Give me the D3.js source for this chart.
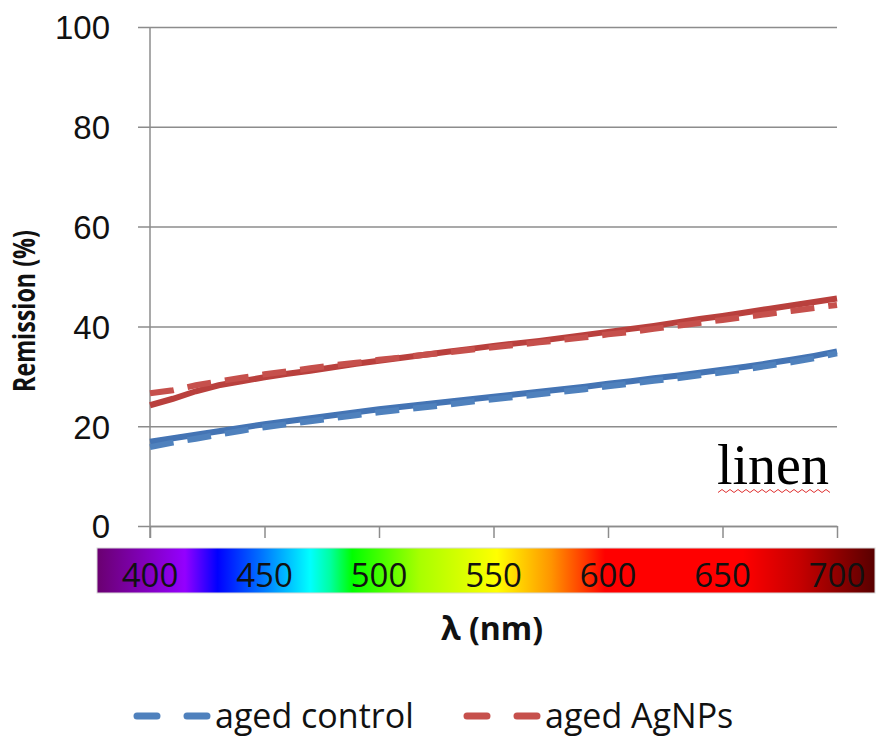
<!DOCTYPE html>
<html>
<head>
<meta charset="utf-8">
<script src="https://cdn.jsdelivr.net/npm/d3@7"></script>
<style>
  body { margin: 0; background: #fff; }
  svg { display: block; font-family: "Open Sans", sans-serif; }
  .axis path, .axis line { stroke: #8c8c8c; stroke-width: 1.5; }
  .axis text { fill: #111; font-size: 33px; }
</style>
</head>
<body>
<svg width="884" height="745"></svg>
<script>
var wavelengths = [400, 410, 420, 430, 440, 450, 460, 470, 480, 490, 500,
    510, 520, 530, 540, 550, 560, 570, 580, 590, 600,
    610, 620, 630, 640, 650, 660, 670, 680, 690, 700];

// solid lines (no legend entry)
var controlSolid = [16.9, 17.6, 18.3, 19.0, 19.7, 20.4, 21.0, 21.6, 22.2, 22.8, 23.4,
    23.9, 24.4, 24.9, 25.4, 25.9, 26.4, 26.9, 27.4, 27.9, 28.5,
    29.0, 29.6, 30.1, 30.7, 31.3, 31.9, 32.6, 33.3, 34.1, 35.0];
var agnpsSolid = [24.2, 25.5, 27.0, 28.2, 29.0, 29.8, 30.5, 31.1, 31.8, 32.5, 33.1,
    33.7, 34.3, 34.9, 35.5, 36.1, 36.6, 37.1, 37.7, 38.3, 38.9,
    39.5, 40.1, 40.8, 41.5, 42.1, 42.8, 43.5, 44.2, 44.9, 45.6];

// dashed lines
var agedControl = [15.8, 16.7, 17.5, 18.3, 19.1, 19.8, 20.4, 21.0, 21.6, 22.2, 22.8,
    23.3, 23.8, 24.3, 24.9, 25.4, 25.9, 26.4, 26.9, 27.4, 28.0,
    28.5, 29.1, 29.6, 30.2, 30.8, 31.4, 32.1, 32.8, 33.6, 34.6];
var agedAgnps = [26.6, 27.2, 28.2, 29.0, 29.7, 30.4, 31.0, 31.6, 32.2, 32.7, 33.3,
    33.8, 34.3, 34.8, 35.3, 35.8, 36.3, 36.8, 37.3, 37.8, 38.4,
    38.9, 39.5, 40.1, 40.7, 41.3, 41.9, 42.5, 43.1, 43.7, 44.3];

var yTicks = [0, 20, 40, 60, 80, 100];
var xTicks = [400, 450, 500, 550, 600, 650, 700];
var legendNames = ["aged control", "aged AgNPs"];

var svg = d3.select("svg");

var plotLeft = 150, plotRight = 837, plotTop = 27, plotBottom = 526;

var x = d3.scaleLinear().domain([400, 700]).range([plotLeft, plotRight]);
var y = d3.scaleLinear().domain([0, 100]).range([plotBottom, plotTop]);

// y axis + gridlines
var yAxis = svg.append("g")
    .attr("class", "axis")
    .attr("transform", "translate(" + plotLeft + ",0)")
    .call(d3.axisLeft(y)
        .tickValues(yTicks)
        .tickSizeInner(-(plotRight - plotLeft))
        .tickSizeOuter(0)
        .tickPadding(40));
yAxis.select(".domain").remove();
yAxis.selectAll(".tick line").attr("x1", -12);
yAxis.selectAll(".tick text").attr("dy", "0.36em");

svg.append("line")
    .attr("x1", plotLeft).attr("x2", plotLeft)
    .attr("y1", plotTop).attr("y2", plotBottom + 12)
    .attr("stroke", "#8c8c8c")
    .attr("stroke-width", 1.5);

// x axis (ticks only, labels sit in the spectrum bar)
svg.append("g")
    .attr("class", "axis")
    .attr("transform", "translate(0," + plotBottom + ")")
    .call(d3.axisBottom(x)
        .tickValues(xTicks)
        .tickSizeInner(12)
        .tickSizeOuter(0)
        .tickFormat(""));

// spectrum bar
var stops = [
    [0, "#6a0070"], [0.068, "#8400c4"], [0.113, "#9400ff"], [0.155, "#0000ff"],
    [0.21, "#0070ff"], [0.274, "#00ffff"], [0.30, "#00ffa0"], [0.328, "#00ff00"],
    [0.415, "#a8ff00"], [0.514, "#ffff00"], [0.584, "#ff9400"], [0.653, "#ff0000"],
    [0.83, "#ff0000"], [0.905, "#c40000"], [1, "#580000"]
];
var grad = svg.append("defs").append("linearGradient")
    .attr("id", "spectrum")
    .attr("x1", "0%").attr("x2", "100%")
    .attr("y1", "0%").attr("y2", "0%");
grad.selectAll("stop")
    .data(stops)
    .enter().append("stop")
    .attr("offset", function (d) { return d[0]; })
    .attr("stop-color", function (d) { return d[1]; });

svg.append("rect")
    .attr("x", 97).attr("y", 548)
    .attr("width", 778).attr("height", 45)
    .attr("fill", "url(#spectrum)")
    .attr("stroke", "#d8d8d8")
    .attr("stroke-width", 1);

svg.append("g").selectAll("text")
    .data(xTicks)
    .enter().append("text")
    .attr("x", function (d) { return x(d); })
    .attr("y", 587)
    .attr("text-anchor", "middle")
    .attr("font-size", "33px")
    .attr("fill", "#111")
    .text(function (d) { return d; });

// lines
var series = [
    { values: controlSolid, color: "#4474b4", dash: null },
    { values: agnpsSolid, color: "#b9403d", dash: null },
    { values: agedControl, color: "#4f81bd", dash: "24 14" },
    { values: agedAgnps, color: "#c6504c", dash: "24 14" }
];

var line = d3.line()
    .x(function (d) { return x(d[0]); })
    .y(function (d) { return y(d[1]); });

svg.append("g").selectAll("path")
    .data(series)
    .enter().append("path")
    .attr("fill", "none")
    .attr("stroke", function (d) { return d.color; })
    .attr("stroke-width", 6)
    .attr("stroke-dasharray", function (d) { return d.dash; })
    .attr("d", function (d) {
        return line(wavelengths.map(function (w, i) { return [w, d.values[i]]; }));
    });

// axis titles
svg.append("text")
    .attr("transform", "translate(35,311) rotate(-90)")
    .attr("text-anchor", "middle")
    .attr("font-size", "30px")
    .attr("font-weight", "bold")
    .attr("fill", "#111")
    .attr("textLength", 162)
    .attr("lengthAdjust", "spacingAndGlyphs")
    .text("Remission (%)");

svg.append("text")
    .attr("x", 492)
    .attr("y", 640)
    .attr("text-anchor", "middle")
    .attr("font-size", "32px")
    .attr("font-weight", "bold")
    .attr("fill", "#111")
    .text("λ (nm)");

// sample label
svg.append("text")
    .attr("x", 717)
    .attr("y", 484)
    .attr("font-family", "'Liberation Serif', 'Times New Roman', serif")
    .attr("font-size", "56px")
    .attr("fill", "#000")
    .text("linen");

var wave = d3.range(0, 29).map(function (i) {
    return [718 + i * 4, 491 + (i % 2 ? -1.5 : 1.5)];
});
svg.append("path")
    .attr("d", d3.line()(wave))
    .attr("fill", "none")
    .attr("stroke", "#e03030")
    .attr("stroke-width", 1);

// legend
var legendItems = [
    { name: legendNames[0], color: "#4f81bd", x: 134 },
    { name: legendNames[1], color: "#c6504c", x: 464 }
];
var legend = svg.append("g").selectAll("g")
    .data(legendItems)
    .enter().append("g")
    .attr("transform", function (d) { return "translate(" + d.x + ",716)"; });

legend.append("line")
    .attr("x1", 3).attr("x2", 73)
    .attr("stroke", function (d) { return d.color; })
    .attr("stroke-width", 7)
    .attr("stroke-linecap", "round")
    .attr("stroke-dasharray", "20 30");

legend.append("text")
    .attr("x", 81)
    .attr("y", 12)
    .attr("font-size", "34px")
    .attr("fill", "#111")
    .text(function (d) { return d.name; });
</script>
</body>
</html>
